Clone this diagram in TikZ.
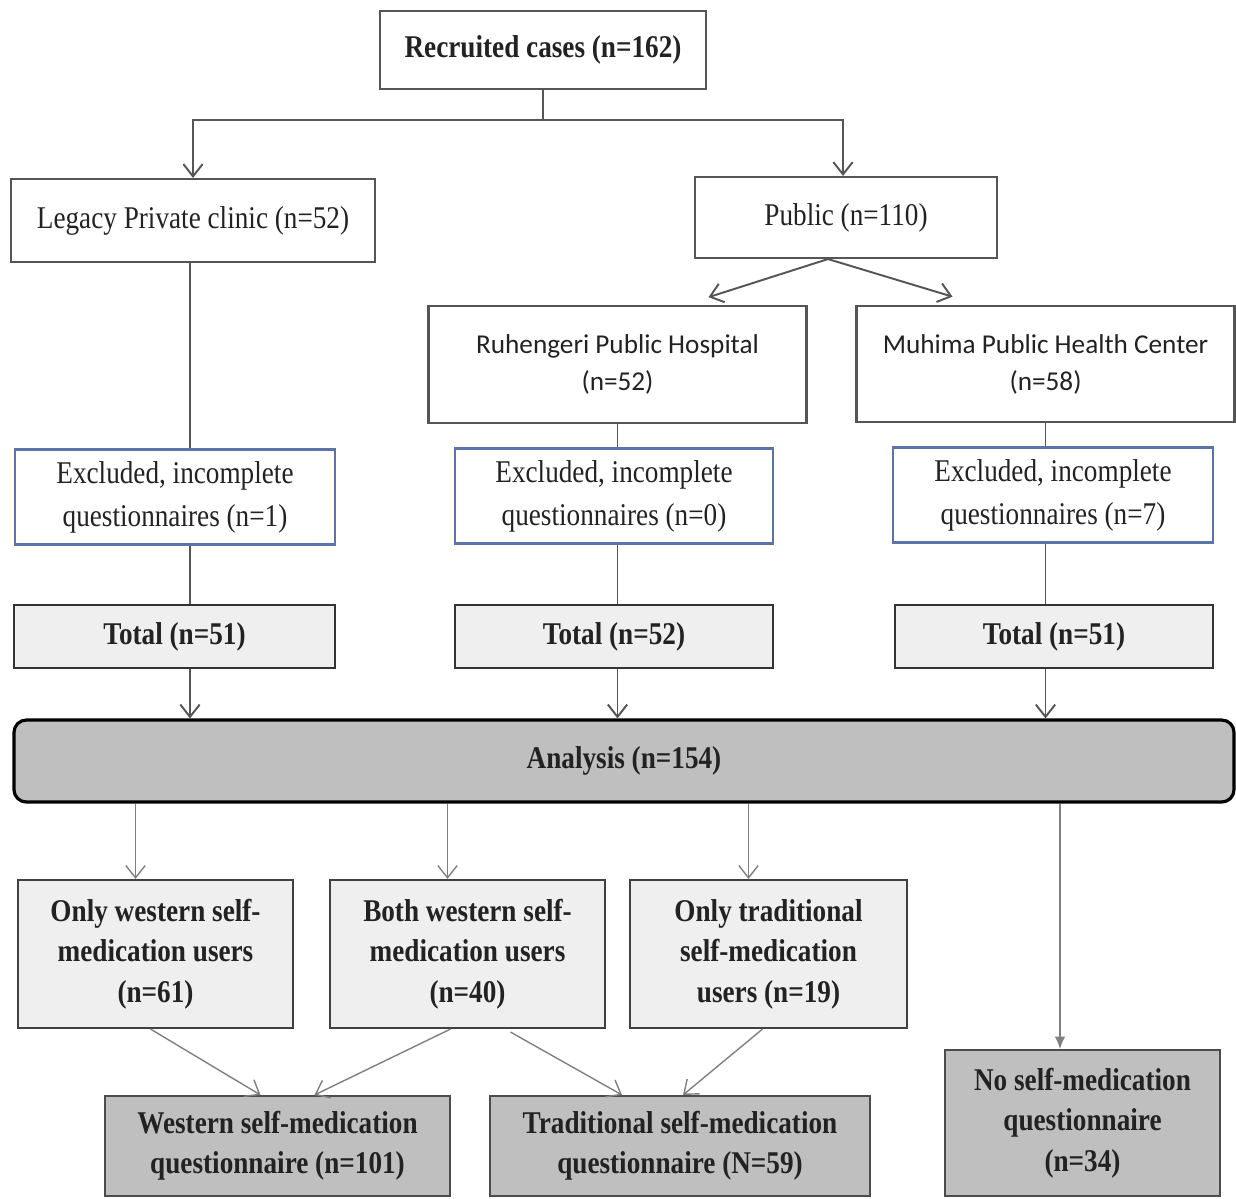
\documentclass[tikz,border=0pt]{standalone}
\usepackage{fontspec}
\setmainfont{Liberation Serif}[FakeStretch=0.86]
\newfontfamily\hospfont{Carlito}
\usetikzlibrary{positioning,arrows.meta,calc}
\usepackage{xcolor}
\definecolor{boxline}{HTML}{555555}
\definecolor{exclline}{HTML}{5B73A6}
\definecolor{lightfill}{HTML}{EFEFEF}
\definecolor{darkfill}{HTML}{BFBFBF}
\definecolor{textcol}{HTML}{222222}

\begin{document}
\begin{tikzpicture}[
  font=\fontsize{18}{23}\selectfont,
  >={Straight Barb[length=7pt,width=11pt]},
  box/.style={draw=boxline, line width=1.2pt, align=center, inner sep=0pt, text=textcol},
  hospbox/.style={box, font=\hospfont\fontsize{15.5}{21}\selectfont, minimum width=7.56cm, minimum height=2.33cm},
  exclbox/.style={box, draw=exclline, font=\fontsize{18}{24.5}\selectfont, minimum height=1.9cm},
  totalbox/.style={box, draw=black!80, line width=1.5pt, fill=lightfill, font=\bfseries\fontsize{18}{23}\selectfont, minimum height=1.26cm},
  usersbox/.style={box, draw=black!75, fill=lightfill, font=\bfseries\fontsize{18}{23}\selectfont, minimum width=5.5cm, minimum height=2.96cm},
  questbox/.style={box, draw=black!70, fill=darkfill, font=\bfseries\fontsize{18}{23}\selectfont, minimum height=2cm},
  link/.style={draw=boxline, line width=1.1pt},
  thinlink/.style={draw=black!50, line width=0.8pt},
]

% Fix the page to the size of the figure
\useasboundingbox (0,0) rectangle (24.72,-23.96);

% Recruitment and sites
\node[box, font=\bfseries\fontsize{18}{23}\selectfont, minimum width=6.52cm, minimum height=1.56cm] (Recruited) at (10.86,-1.0) {Recruited cases (n=162)};
\node[box, minimum width=7.28cm, minimum height=1.66cm] (Legacy) at (3.86,-4.41) {Legacy Private clinic (n=52)};
\node[box, minimum width=6.04cm, minimum height=1.62cm] (Public) at (16.92,-4.35) {Public (n=110)};
\node[hospbox] (Ruhengeri) at (12.35,-7.29) {Ruhengeri Public Hospital\\(n=52)};
\node[hospbox] (Muhima) at (20.91,-7.28) {Muhima Public Health Center\\(n=58)};

% Excluded questionnaires
\node[exclbox, minimum width=6.4cm, text depth=0.12cm] (Excl1) at (3.5,-9.94) {Excluded, incomplete\\questionnaires (n=1)};
\node[exclbox, minimum width=6.36cm, text depth=0.12cm] (Excl2) at (12.28,-9.92) {Excluded, incomplete\\questionnaires (n=0)};
\node[exclbox, minimum width=6.4cm, text depth=0.12cm] (Excl3) at (21.06,-9.9) {Excluded, incomplete\\questionnaires (n=7)};

% Totals
\node[totalbox, minimum width=6.42cm] (Total1) at (3.49,-12.73) {Total (n=51)};
\node[totalbox, minimum width=6.36cm] (Total2) at (12.28,-12.73) {Total (n=52)};
\node[totalbox, minimum width=6.36cm] (Total3) at (21.08,-12.73) {Total (n=51)};

% Analysis
\node[box, draw=black, line width=1.8pt, fill=darkfill, rounded corners=7pt, font=\bfseries\fontsize{18}{23}\selectfont, minimum width=24.4cm, minimum height=1.64cm] (Analysis) at (12.48,-15.22) {Analysis (n=154)};

% User groups
\node[usersbox] (OnlyW) at (3.11,-19.08) {Only western self-\\medication users\\(n=61)};
\node[usersbox] (Both) at (9.35,-19.08) {Both western self-\\medication users\\(n=40)};
\node[usersbox, minimum width=5.54cm] (OnlyT) at (15.37,-19.08) {Only traditional\\self-medication\\users (n=19)};

% Questionnaires
\node[questbox, minimum width=6.9cm] (WestQ) at (5.55,-22.92) {Western self-medication\\questionnaire (n=101)};
\node[questbox, minimum width=7.6cm] (TradQ) at (13.6,-22.92) {Traditional self-medication\\questionnaire (N=59)};
\node[questbox, minimum width=5.5cm, minimum height=2.92cm] (NoSelf) at (21.65,-22.46) {No self-medication\\questionnaire\\(n=34)};

% Split of the recruited cases
\draw[link] (Recruited.south) -- ++(0,-0.6) coordinate (Fork);
\draw[link,->] (Fork) -| (Legacy.north);
\draw[link,->] (Fork) -| ([xshift=-0.06cm]Public.north);

% Split of the public cases
\coordinate (PubFork) at ([xshift=-0.36cm]Public.south);
\draw[link,->] (PubFork) -- ([xshift=1.82cm,yshift=0.16cm]Ruhengeri.north);
\draw[link,->] (PubFork) -- ([xshift=-1.86cm,yshift=0.16cm]Muhima.north);

% Columns down to the analysis
\draw[link] ([xshift=-0.06cm]Legacy.south) -- ([xshift=-0.06cm]Legacy.south |- Excl1.north);
\draw[link] ([xshift=-0.06cm]Legacy.south |- Excl1.south) -- ([xshift=-0.06cm]Legacy.south |- Total1.north);
\draw[link,->] ([xshift=-0.06cm]Legacy.south |- Total1.south) -- ([xshift=-0.06cm]Legacy.south |- Analysis.north);
\draw[link] (Ruhengeri.south) -- (Ruhengeri.south |- Excl2.north);
\draw[link] (Ruhengeri.south |- Excl2.south) -- (Ruhengeri.south |- Total2.north);
\draw[link,->] (Ruhengeri.south |- Total2.south) -- (Ruhengeri.south |- Analysis.north);
\draw[link] (Muhima.south) -- (Muhima.south |- Excl3.north);
\draw[link] (Muhima.south |- Excl3.south) -- (Muhima.south |- Total3.north);
\draw[link,->] (Muhima.south |- Total3.south) -- (Muhima.south |- Analysis.north);

% From the analysis to the groups
\foreach \grp in {OnlyW,Both,OnlyT} {
  \draw[thinlink,->] ([xshift=-0.4cm]\grp.north |- Analysis.south) -- ([xshift=-0.4cm]\grp.north);
}
\draw[thinlink,-{Latex[length=7pt,width=6pt]}] ([xshift=-0.45cm]NoSelf.north |- Analysis.south) -- ([xshift=-0.45cm]NoSelf.north);

% From the groups to the questionnaires
\draw[thinlink,->] ([xshift=-0.1cm]OnlyW.south) -- ([xshift=-0.34cm]WestQ.north);
\draw[thinlink,->] ([xshift=-0.34cm]Both.south) -- ([xshift=0.74cm]WestQ.north);
\draw[thinlink,->] ([xshift=0.86cm,yshift=-0.06cm]Both.south) -- ([xshift=-1.16cm]TradQ.north);
\draw[thinlink,->] ([xshift=-0.12cm]OnlyT.south) -- ([xshift=0.06cm]TradQ.north);

\end{tikzpicture}
\end{document}
